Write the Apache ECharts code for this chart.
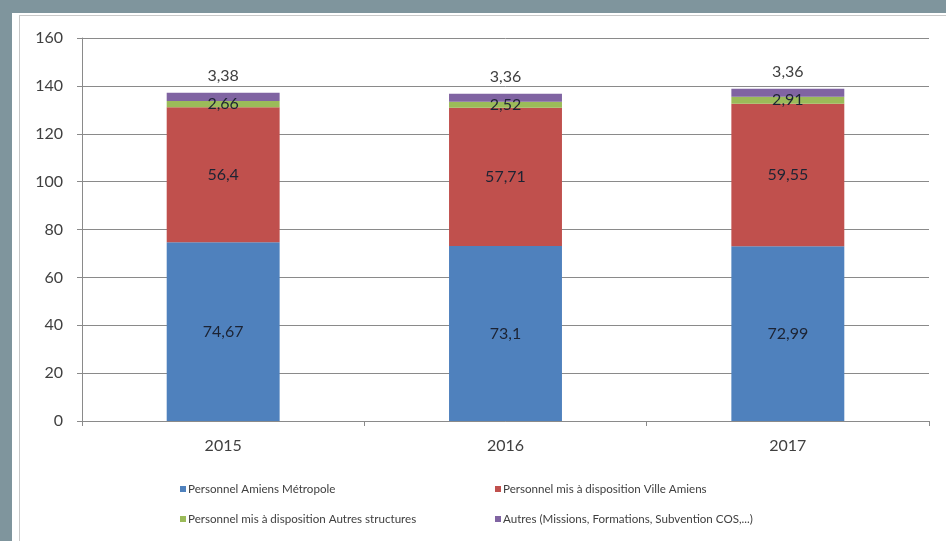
<!DOCTYPE html>
<html>
<head>
<meta charset="utf-8">
<script src="https://cdn.jsdelivr.net/npm/echarts@6/dist/echarts.min.js"></script>
<style>
html,body{margin:0;padding:0;width:946px;height:541px;overflow:hidden;background:#7f959d;}
#panel{position:absolute;left:12px;top:13px;width:934px;height:528px;background:#fff;}
#frame{position:absolute;left:19px;top:15px;width:927px;height:526px;border-left:1px solid #c9c9c9;border-top:1px solid #c9c9c9;box-sizing:border-box;}
#chart{position:absolute;left:0;top:0;width:946px;height:541px;}
</style>
</head>
<body>
<div id="panel"></div>
<div id="frame"></div>
<div id="chart"></div>
<script>
const categories = ['2015', '2016', '2017'];
const seriesNames = [
  'Personnel Amiens Métropole',
  'Personnel mis à disposition Ville Amiens',
  'Personnel mis à disposition Autres structures',
  'Autres (Missions, Formations, Subvention COS,...)'
];
const amiensMetropole = [74.67, 73.1, 72.99];
const villeAmiens = [56.4, 57.71, 59.55];
const autresStructures = [2.66, 2.52, 2.91];
const autres = [3.38, 3.36, 3.36];
const yTicks = [0, 20, 40, 60, 80, 100, 120, 140, 160];

const colors = ['#4f81bd', '#c0504d', '#9bbb59', '#8064a2'];
const font = 'Lato, "Liberation Sans", sans-serif';
const fmt = p => String(p.value).replace('.', ',');

const chart = echarts.init(document.getElementById('chart'), null, {renderer: 'canvas'});

function legendAt(name, left, top) {
  return {
    data: [name], left: left, top: top, icon: 'rect', itemWidth: 6, itemHeight: 6,
    itemGap: 0, padding: 0, selectedMode: false,
    textStyle: {fontFamily: font, fontSize: 11.6, color: '#404040', padding: [0, 0, 0, -3]}
  };
}

const datasets = [amiensMetropole, villeAmiens, autresStructures, autres];
const series = datasets.map((d, i) => {
  const s = {
    name: seriesNames[i], type: 'bar', stack: 'total', data: d, barWidth: '40%',
    itemStyle: {color: colors[i]},
    label: {
      show: true, position: 'inside', formatter: fmt,
      fontFamily: font, fontSize: 16, color: '#1c2333'
    }
  };
  if (i === 3) {
    s.label.position = 'top';
    s.label.distance = 9;
    s.label.color = '#404040';
  }
  return s;
});

chart.setOption({
  animation: false,
  backgroundColor: 'transparent',
  color: colors,
  grid: {left: 82, right: 17, top: 38, bottom: 120, containLabel: false},
  legend: [
    legendAt(seriesNames[0], 180, 483),
    legendAt(seriesNames[1], 495, 483),
    legendAt(seriesNames[2], 180, 513),
    legendAt(seriesNames[3], 495, 513)
  ],
  xAxis: {
    type: 'category', data: categories,
    axisLine: {lineStyle: {color: '#8a8a8a', width: 1}},
    axisTick: {show: true, length: 5, lineStyle: {color: '#8a8a8a'}},
    axisLabel: {fontFamily: font, fontSize: 16, color: '#404040', margin: 17}
  },
  yAxis: {
    type: 'value', min: yTicks[0], max: yTicks[yTicks.length - 1], interval: 20,
    axisLine: {show: true, lineStyle: {color: '#8a8a8a', width: 1}},
    axisTick: {show: true, length: 5, lineStyle: {color: '#8a8a8a'}},
    axisLabel: {fontFamily: font, fontSize: 16, color: '#404040', margin: 19},
    splitLine: {lineStyle: {color: '#8a8a8a', width: 1}}
  },
  series: series
});
</script>
</body>
</html>
